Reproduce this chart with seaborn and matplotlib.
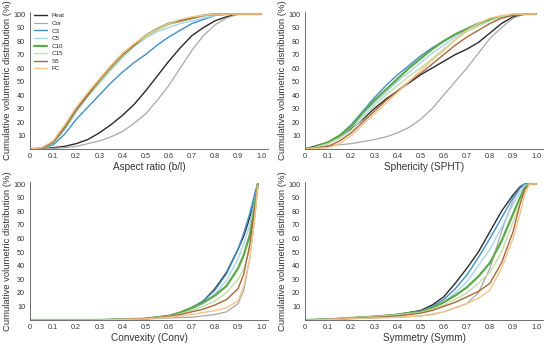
import matplotlib
matplotlib.use("Agg")
import matplotlib.pyplot as plt
import seaborn as sns
import pandas as pd

series = ["Peat", "Cor", "C3", "C5", "C10", "C15", "S5", "FC"]
colors = ["#2a2a2a", "#a8a8a8", "#3f8fc6", "#a9d4ec", "#5ca84a", "#bfe0a6", "#a9683a", "#f2c58a"]
widths = [1.0, 0.9, 1.0, 1.0, 1.6, 1.0, 1.0, 1.0]

# Aspect ratio (b/l)
ar_x = [0, 0.05, 0.1, 0.15, 0.2, 0.25, 0.3, 0.35, 0.4, 0.45, 0.5, 0.55, 0.6, 0.65, 0.7, 0.75, 0.8, 0.85, 0.9, 1.0]
ar_peat = [0, 0, 1, 2, 4, 7, 12, 18, 25, 33, 43, 54, 65, 75, 84, 90, 95, 98, 100, 100]
ar_cor = [0, 0, 0.5, 1, 2, 4, 6, 9, 13, 19, 26, 36, 47, 60, 73, 84, 92, 97, 100, 100]
ar_c3 = [0, 0.5, 3, 11, 22, 31, 40, 49, 57, 64, 70, 77, 83, 88, 93, 96, 99, 100, 100, 100]
ar_c5 = [0, 0.5, 4, 14, 27, 39, 49, 59, 68, 76, 82, 87, 90, 93, 95, 97, 99, 100, 100, 100]
ar_c10 = [0, 0.5, 5, 16, 29, 40, 50, 60, 69, 77, 84, 89, 93, 95, 97, 99, 100, 100, 100, 100]
ar_c15 = [0, 0.5, 5, 16, 28, 40, 50, 60, 69, 77, 83, 88, 92, 95, 97, 99, 100, 100, 100, 100]
ar_s5 = [0, 0.5, 5, 16, 29, 40, 51, 61, 70, 77, 84, 89, 93, 95, 97, 99, 100, 100, 100, 100]
ar_fc = [0, 1, 6, 18, 31, 42, 52, 62, 71, 78, 84, 89, 93, 96, 98, 99, 100, 100, 100, 100]

# Sphericity (SPHT)
sp_x = [0, 0.03, 0.1, 0.15, 0.2, 0.25, 0.3, 0.35, 0.4, 0.45, 0.5, 0.55, 0.6, 0.65, 0.7, 0.75, 0.8, 0.85, 0.9, 0.95, 1.0]
sp_peat = [0, 1.5, 5, 9, 15, 22, 30, 37, 43, 49, 55, 60, 65, 70, 74, 79, 86, 93, 98, 100, 100]
sp_cor = [0, 1, 2.5, 3.2, 4, 5.5, 7, 9, 12, 16, 22, 30, 40, 50, 60, 71, 82, 90, 97, 100, 100]
sp_c3 = [0, 0.5, 5, 10, 18, 28, 38, 47, 55, 62, 69, 75, 80, 85, 89, 93, 96, 98, 100, 100, 100]
sp_c5 = [0, 0.5, 4, 9, 16, 25, 34, 42, 50, 57, 64, 71, 77, 83, 88, 92, 96, 98, 100, 100, 100]
sp_c10 = [0, 0.5, 5, 10, 17, 27, 36, 44, 52, 60, 67, 74, 80, 85, 89, 93, 96, 98, 99.5, 100, 100]
sp_c15 = [0, 0.5, 4, 8, 14, 23, 32, 40, 47, 54, 60, 67, 74, 81, 87, 91, 95, 98, 100, 100, 100]
sp_s5 = [0, 0.3, 2, 6, 12, 20, 28, 36, 43, 50, 56, 63, 70, 77, 83, 88, 93, 97, 99, 100, 100]
sp_fc = [0, 0.2, 1, 4, 10, 18, 26, 34, 42, 50, 58, 66, 73, 81, 88, 93, 97, 99, 100, 100, 100]

# Convexity (Conv)
cv_x = [0, 0.1, 0.2, 0.3, 0.4, 0.5, 0.6, 0.65, 0.7, 0.75, 0.8, 0.85, 0.9, 0.925, 0.95, 0.965, 0.975, 0.985]
cv_peat = [0, 0, 0, 0, 0.5, 1, 3, 5.5, 9, 14, 23, 35, 52, 62, 75, 84, 90, 98]
cv_cor = [0, 0, 0, 0, 0.3, 0.7, 1.5, 1.8, 2, 3, 4, 6, 12, 22, 45, 65, 80, 98]
cv_c3 = [0, 0, 0, 0, 0.5, 1, 3, 5.5, 9, 14, 22, 34, 52, 64, 78, 88, 95, 100]
cv_c5 = [0, 0, 0, 0, 0.5, 1, 3, 5, 8, 12, 19, 29, 45, 56, 70, 82, 90, 99]
cv_c10 = [0, 0, 0, 0, 0.5, 1, 3, 5.5, 9, 13, 18, 25, 38, 48, 62, 76, 87, 100]
cv_c15 = [0, 0, 0, 0, 0.5, 1, 2.5, 4.5, 7, 10, 14, 20, 30, 38, 52, 67, 82, 99]
cv_s5 = [0, 0, 0, 0, 0.4, 1, 2.5, 4, 6, 8, 11, 15, 23, 34, 55, 72, 85, 100]
cv_fc = [0, 0, 0, 0, 0.4, 0.8, 2, 3, 4, 5.5, 7, 9, 14, 25, 45, 65, 80, 99]

# Symmetry (Symm)
sy_x = [0, 0.1, 0.2, 0.3, 0.4, 0.5, 0.55, 0.6, 0.65, 0.7, 0.75, 0.8, 0.85, 0.9, 0.93, 0.95, 0.97, 1.0]
sy_peat = [0, 0.5, 1.5, 2.5, 4, 7, 11, 17, 27, 38, 50, 65, 80, 92, 98, 100, 100, 100]
sy_cor = [0, 0.3, 1, 1.5, 2, 3, 4, 6, 9, 12, 20, 38, 65, 88, 97, 100, 100, 100]
sy_c3 = [0, 0.5, 1.5, 2.5, 4, 6.5, 10, 15, 23, 33, 46, 60, 75, 90, 97, 100, 100, 100]
sy_c5 = [0, 0.5, 1.5, 2.5, 4, 6, 9, 13, 20, 28, 40, 52, 68, 85, 94, 99, 100, 100]
sy_c10 = [0, 0.5, 1.5, 2.5, 4, 6, 9, 13, 18, 24, 32, 42, 58, 78, 90, 97, 100, 100]
sy_c15 = [0, 0.5, 1.5, 2.5, 3.8, 5.5, 8, 11, 15, 20, 27, 35, 50, 72, 86, 95, 100, 100]
sy_s5 = [0, 0.4, 1.2, 2, 3, 5, 7, 10, 13, 17, 21, 27, 42, 65, 85, 96, 100, 100]
sy_fc = [0, 0.3, 1, 1.5, 2, 3, 4.5, 6, 9, 12, 16, 22, 38, 60, 78, 92, 100, 100]

panels = [
    ("Aspect ratio (b/l)", ar_x, [ar_peat, ar_cor, ar_c3, ar_c5, ar_c10, ar_c15, ar_s5, ar_fc]),
    ("Sphericity (SPHT)", sp_x, [sp_peat, sp_cor, sp_c3, sp_c5, sp_c10, sp_c15, sp_s5, sp_fc]),
    ("Convexity (Conv)", cv_x, [cv_peat, cv_cor, cv_c3, cv_c5, cv_c10, cv_c15, cv_s5, cv_fc]),
    ("Symmetry (Symm)", sy_x, [sy_peat, sy_cor, sy_c3, sy_c5, sy_c10, sy_c15, sy_s5, sy_fc]),
]

sns.set_style("white")
plt.rcParams['font.family'] = ['Liberation Sans', 'DejaVu Sans']

fig = plt.figure(figsize=(5.5, 3.45), dpi=100)
boxes = [
    [0.0545, 0.568, 0.433, 0.397],
    [0.5545, 0.568, 0.433, 0.397],
    [0.0545, 0.0725, 0.433, 0.40],
    [0.5545, 0.0725, 0.433, 0.40],
]
palette = dict(zip(series, colors))

for i, (label, xs, ys) in enumerate(panels):
    ax = fig.add_axes(boxes[i])
    rows = []
    for name, vals in zip(series, ys):
        for x, y in zip(xs, vals):
            rows.append({"x": x, "y": y, "series": name})
    df = pd.DataFrame(rows)
    for name, w in zip(series, widths):
        sub = df[df["series"] == name]
        sns.lineplot(data=sub, x="x", y="y", color=palette[name], lw=w,
                     ax=ax, label=name if i == 0 else None, estimator=None)
    ax.set_xlim(0, 1.03)
    ax.set_ylim(0, 101.5)
    ax.set_xticks([0, 0.1, 0.2, 0.3, 0.4, 0.5, 0.6, 0.7, 0.8, 0.9, 1.0])
    ax.set_xticklabels(["0", "0.1", "0.2", "0.3", "0.4", "0.5", "0.6", "0.7", "0.8", "0.9", "1.0"])
    ax.set_yticks([10, 20, 30, 40, 50, 60, 70, 80, 90, 100])
    ax.tick_params(labelsize=5.2, colors="#333333", length=2, width=0.5, pad=1.5)
    ax.tick_params(axis="x", length=0, pad=3)
    for s in ["top", "right"]:
        ax.spines[s].set_visible(False)
    for s in ["left", "bottom"]:
        ax.spines[s].set_color("#555555")
        ax.spines[s].set_linewidth(0.6)
    ax.set_xlabel(label, fontsize=7.2, color="#333333", labelpad=1)
    ax.set_ylabel("Cumulative volumetric distribution (%)", fontsize=6.8, color="#333333", labelpad=1)
    if i == 0:
        ax.legend(loc="upper left", bbox_to_anchor=(0.0, 1.02), frameon=False,
                  fontsize=4.5, handlelength=2.2, labelspacing=0.35, handletextpad=0.6,
                  borderaxespad=0.2)
    elif ax.get_legend() is not None:
        ax.get_legend().remove()

fig.savefig("out.png", dpi=100)
